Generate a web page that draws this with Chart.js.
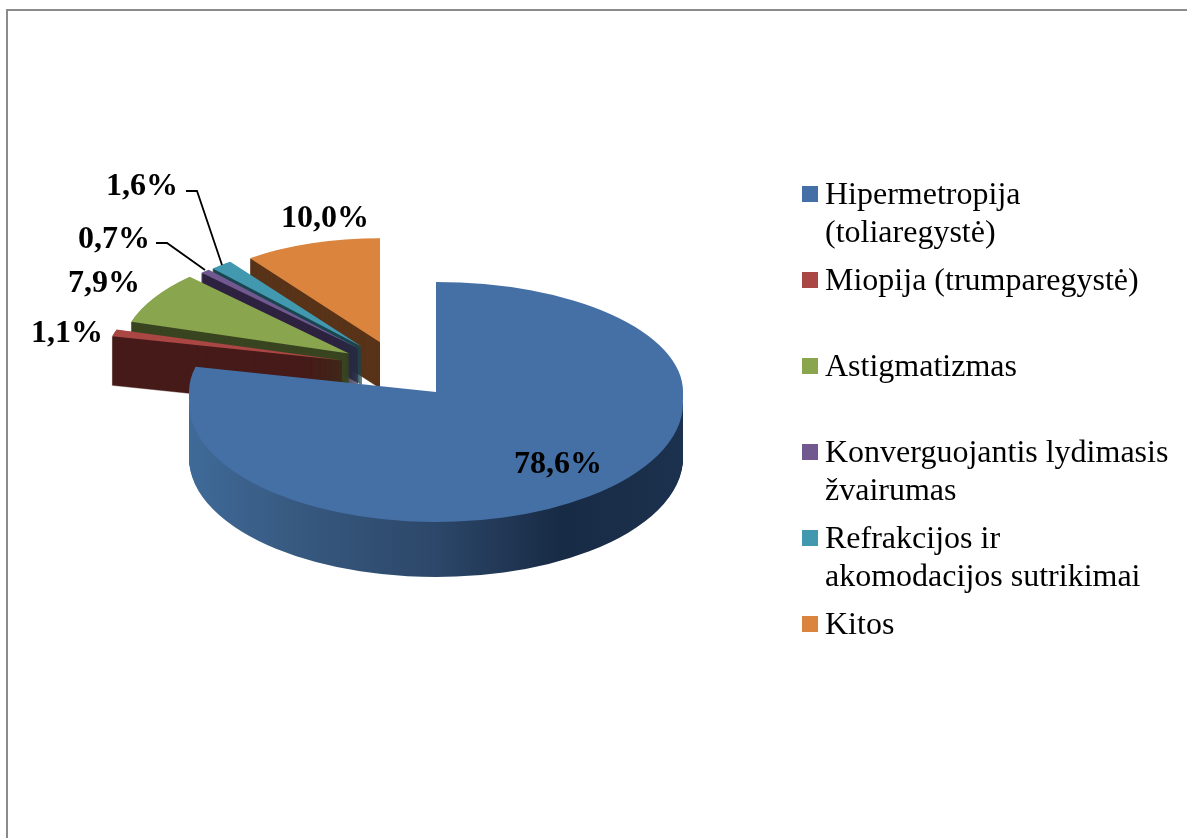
<!DOCTYPE html>
<html>
<head>
<meta charset="utf-8">
<style>html,body{margin:0;padding:0;background:#fff;overflow:hidden}canvas{display:block}</style>
<script src="https://cdn.jsdelivr.net/npm/chart.js@4"></script>
</head>
<body>
<canvas id="c" width="1187" height="838"></canvas>
<script>
// ---- data ----
const categories = ['Hipermetropija (toliaregystė)','Miopija (trumparegystė)','Astigmatizmas','Konverguojantis lydimasis žvairumas','Refrakcijos ir akomodacijos sutrikimai','Kitos'];
const values = [78.6,1.1,7.9,0.7,1.6,10.0];
const legendFirstLines = ['Hipermetropija','Miopija (trumparegystė)','Astigmatizmas','Konverguojantis lydimasis','Refrakcijos ir','Kitos'];
const legendSecondLines = ['(toliaregystė)','','','žvairumas','akomodacijos sutrikimai',''];
// ---- styles ----
const topColors = ['#4570a6','#aa4643','#89a54e','#71588f','#4198af','#db843d'];
const wallColors = ['#2b4566','#461b19','#394520','#2e2340','#1a4650','#5a351a'];
const wallDepth = [55,49,47,42,38,46];
const radiusX = [247,236,228,224,224,221];
const radiusY = [110,104,107,105,105,104];
const drawOrder = [5,4,3,2,1,0];
const PIE_CX = 398, PIE_CY = 367, PIE_SQUASH = 0.449, EXPLODE = 58;
const BLUE_APEX_X = 436, BLUE_APEX_Y = 392, BLUE_RIM_Y = 403, BLUE_FRONT_RY = 119, BLUE_BAND_RY = 500;
const blueWallStops = [[0,'#3f6a99'],[0.22,'#37597f'],[0.5,'#2c4769'],[0.75,'#182b45'],[1,'#1c314e']];
const labelCenters = [[558,465],[67,334],[104,284],[114,240],[142,187],[325,219]];
const leaders = {3:[[156,243],[167,243],[205,270]],4:[[186,191],[197,191],[222,265]]};
const labelFont = 'bold 32px "Liberation Serif"';
const legendFont = {family:'"Liberation Serif"',size:32};
const LEGEND_BOX_X = 802, LEGEND_TOP = 180, LEGEND_PAD = 54, LEGEND_STEP = 86, LEGEND_LINE = 37.5, LEGEND_TEXT_X = 825;
const LEGEND_BOX_TOP = 186, LEGEND_BOX_SIZE = 16;

const pie3d = {
  id:'pie3d',
  beforeDraw(chart){
    const ctx = chart.ctx;
    ctx.save();
    ctx.strokeStyle = '#8b8b8b'; ctx.lineWidth = 2;
    ctx.beginPath(); ctx.moveTo(7,838); ctx.lineTo(7,10); ctx.lineTo(1187,10); ctx.stroke();
    ctx.restore();
    const lg = chart.legend;
    const w = lg.width;
    lg.left = LEGEND_BOX_X - LEGEND_PAD; lg.right = lg.left + w;
    lg.top = LEGEND_TOP - LEGEND_PAD; lg.bottom = chart.height + 400;
  },
  beforeDatasetsDraw(chart){
    const ctx = chart.ctx, arcs = chart.getDatasetMeta(0).data;
    const drawWith = (el, fill, border) => {
      const o = el.options;
      el.options = Object.create(o,{
        backgroundColor:{value:fill},
        borderColor:{value:fill},
        borderWidth:{value:border||0}
      });
      el.draw(ctx);
      el.options = o;
    };
    const place = (el,ax,ay,rx,ry) => {
      const r = el.outerRadius;
      ctx.translate(ax,ay); ctx.scale(rx/r,ry/r); ctx.translate(-el.x,-el.y);
    };
    const band = (y0,y1) => { ctx.beginPath(); ctx.rect(0,y0,chart.width,y1-y0); ctx.clip(); };
    drawOrder.forEach(i => {
      const el = arcs[i];
      const mid = (el.startAngle+el.endAngle)/2;
      const rx = radiusX[i], ry = radiusY[i];
      if (i===0){
        const ax = BLUE_APEX_X, ay = BLUE_APEX_Y;
        const r = el.outerRadius;
        const lx = X => el.x + (X-ax)*r/rx;
        const g = ctx.createLinearGradient(lx(ax-rx),0,lx(ax+rx),0);
        blueWallStops.forEach(s=>g.addColorStop(s[0],s[1]));
        for(let d=wallDepth[i];d>=1;d--){
          ctx.save();
          band(BLUE_RIM_Y+d,chart.height);
          place(el,ax,BLUE_RIM_Y+d,rx,BLUE_FRONT_RY);
          drawWith(el,g);
          ctx.restore();
        }
        ctx.save();
        band(BLUE_RIM_Y,chart.height);
        place(el,ax,BLUE_RIM_Y,rx,BLUE_FRONT_RY);
        drawWith(el,topColors[i]);
        ctx.restore();
        ctx.save();
        band(ay,BLUE_RIM_Y);
        place(el,ax,ay,rx,BLUE_BAND_RY);
        drawWith(el,topColors[i]);
        ctx.restore();
        ctx.save();
        band(0,ay);
        place(el,ax,ay,rx,ry);
        drawWith(el,topColors[i]);
        ctx.restore();
      } else {
        const ax = Math.round(PIE_CX + Math.cos(mid)*EXPLODE);
        const ay = PIE_CY + Math.sin(mid)*EXPLODE*PIE_SQUASH;
        for(let d=wallDepth[i];d>=1;d--){
          ctx.save();
          if(i===5){ ctx.beginPath(); ctx.rect(0,0,ax,chart.height); ctx.clip(); }
          place(el,ax,ay+d,rx,ry);
          drawWith(el,wallColors[i],1);
          ctx.restore();
        }
        ctx.save();
        place(el,ax,ay,rx,ry);
        drawWith(el,topColors[i]);
        ctx.restore();
      }
    });
    return false;
  },
  afterDraw(chart){
    const ctx = chart.ctx;
    ctx.save();
    ctx.fillStyle = '#000';
    ctx.font = labelFont; ctx.textAlign='center'; ctx.textBaseline='middle';
    values.forEach((v,i)=>{
      ctx.fillText(v.toFixed(1).replace('.',',')+'%',labelCenters[i][0],labelCenters[i][1]);
    });
    ctx.strokeStyle='#000'; ctx.lineWidth=1.8;
    Object.values(leaders).forEach(p=>{
      ctx.beginPath(); ctx.moveTo(p[0][0],p[0][1]); ctx.lineTo(p[1][0],p[1][1]); ctx.lineTo(p[2][0],p[2][1]); ctx.stroke();
    });
    ctx.font = legendFont.size+'px '+legendFont.family;
    ctx.textAlign='left';
    chart.legend.legendItems.forEach((it,i)=>{
      ctx.fillStyle = topColors[i];
      ctx.fillRect(LEGEND_BOX_X,LEGEND_BOX_TOP+i*LEGEND_STEP,LEGEND_BOX_SIZE,LEGEND_BOX_SIZE);
      if(legendSecondLines[i]){
        ctx.fillStyle = '#000';
        ctx.fillText(legendSecondLines[i],LEGEND_TEXT_X,LEGEND_TOP+legendFont.size/2+i*LEGEND_STEP+LEGEND_LINE);
      }
    });
    ctx.restore();
  }
};

new Chart(document.getElementById('c'),{
  type:'pie',
  data:{labels:categories,datasets:[{data:values,backgroundColor:topColors,borderWidth:0}]},
  options:{
    responsive:false,animation:false,
    plugins:{
      tooltip:{enabled:false},
      legend:{
        position:'right',align:'start',
        labels:{
          color:'#000',font:legendFont,boxWidth:7,boxHeight:12,padding:LEGEND_PAD,
          generateLabels(chart){
            return Chart.overrides.pie.plugins.legend.labels.generateLabels(chart)
              .map((it,i)=>Object.assign(it,{text:legendFirstLines[i],lineWidth:0}));
          }
        }
      }
    }
  },
  plugins:[pie3d]
});
</script>
</body>
</html>
